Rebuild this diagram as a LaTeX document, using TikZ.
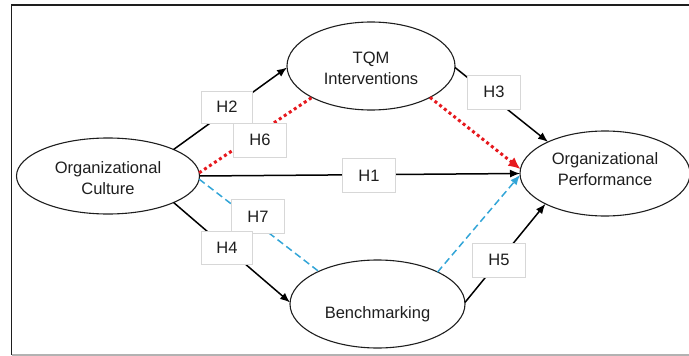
\documentclass[tikz,border=0pt]{standalone}
\usepackage{fontspec}
\setmainfont{Liberation Sans}
\usetikzlibrary{shapes.geometric,arrows.meta}

\definecolor{dotred}{RGB}{230,25,30}
\definecolor{dashblue}{RGB}{50,165,215}
\definecolor{boxgray}{RGB}{215,215,215}
\definecolor{inkgray}{RGB}{30,30,30}

\tikzset{
  construct/.style={ellipse, draw=inkgray, line width=1.1pt, inner sep=0pt, outer sep=0pt},
  constructtext/.style={align=center, font=\fontsize{16.5}{21}\selectfont, text=inkgray, inner sep=0pt},
  hyplabel/.style={rectangle, draw=boxgray, fill=white, line width=0.7pt,
    minimum width=53pt, minimum height=34pt, inner sep=0pt,
    font=\fontsize{16.5}{20}\selectfont, text=inkgray},
  direct/.style={draw=black, line width=1.5pt, -{Latex[length=10pt,width=8pt]}},
  redpath/.style={draw=dotred, line width=3pt, dash pattern=on 3pt off 3pt},
  bluepath/.style={draw=dashblue, line width=1.5pt, dash pattern=on 7pt off 4pt}
}

\begin{document}
\begin{tikzpicture}[x=1pt, y=-1pt]
  \useasboundingbox (0,0) rectangle (689,356);

  % outer frame (left, top and bottom rules)
  \draw[line width=1.5pt, draw=inkgray] (689,5) -- (11.5,5) -- (11.5,355);
  \draw[line width=1.2pt, draw=gray!60] (11.5,355) -- (689,355);

  % constructs
  \node[construct, minimum width=183pt, minimum height=76pt] (oc) at (108,176) {};
  \node[construct, minimum width=168pt, minimum height=88pt] (tqm) at (371,66) {};
  \node[construct, minimum width=170pt, minimum height=85pt] (op) at (605,173.5) {};
  \node[construct, minimum width=175pt, minimum height=88pt] (bm) at (377.5,304) {};

  \node[constructtext] (octext) at (108,178) {Organizational\\Culture};
  \node[constructtext] (tqmtext) at (371,68) {TQM\\Interventions};
  \node[constructtext] (optext) at (605,169.5) {Organizational\\Performance};
  \node[constructtext] (bmtext) at (377.5,314) {Benchmarking};

  % mediated paths
  \draw[redpath] (oc.2) -- (tqm.208);
  \draw[redpath, -{Latex[length=12pt,width=11pt]}] (tqm.-28.5) -- (op.177);
  \draw[bluepath] (oc.-2) -- (bm.151);
  \draw[bluepath, -{Latex[length=10pt,width=8pt]}] (bm.28) -- (op.181.5);

  % direct paths
  \draw[direct] (oc.22.5) -- (tqm.181);
  \draw[direct] (tqm.-1) -- (op.151);
  \draw[direct] (oc.east) -- (op.180);
  \draw[direct] (oc.-22.5) -- (bm.179);
  \draw[direct] (bm.1.5) -- (op.207.7);

  % hypothesis labels
  \node[hyplabel, minimum width=51pt, minimum height=32pt] (h2) at (227,107) {H2};
  \node[hyplabel] (h6) at (260,140) {H6};
  \node[hyplabel] (h1) at (369,175.5) {H1};
  \node[hyplabel] (h3) at (494,92) {H3};
  \node[hyplabel] (h7) at (258,216.5) {H7};
  \node[hyplabel, minimum width=51pt, minimum height=33pt] (h4) at (227,247.5) {H4};
  \node[hyplabel] (h5) at (499,260) {H5};
\end{tikzpicture}
\end{document}
